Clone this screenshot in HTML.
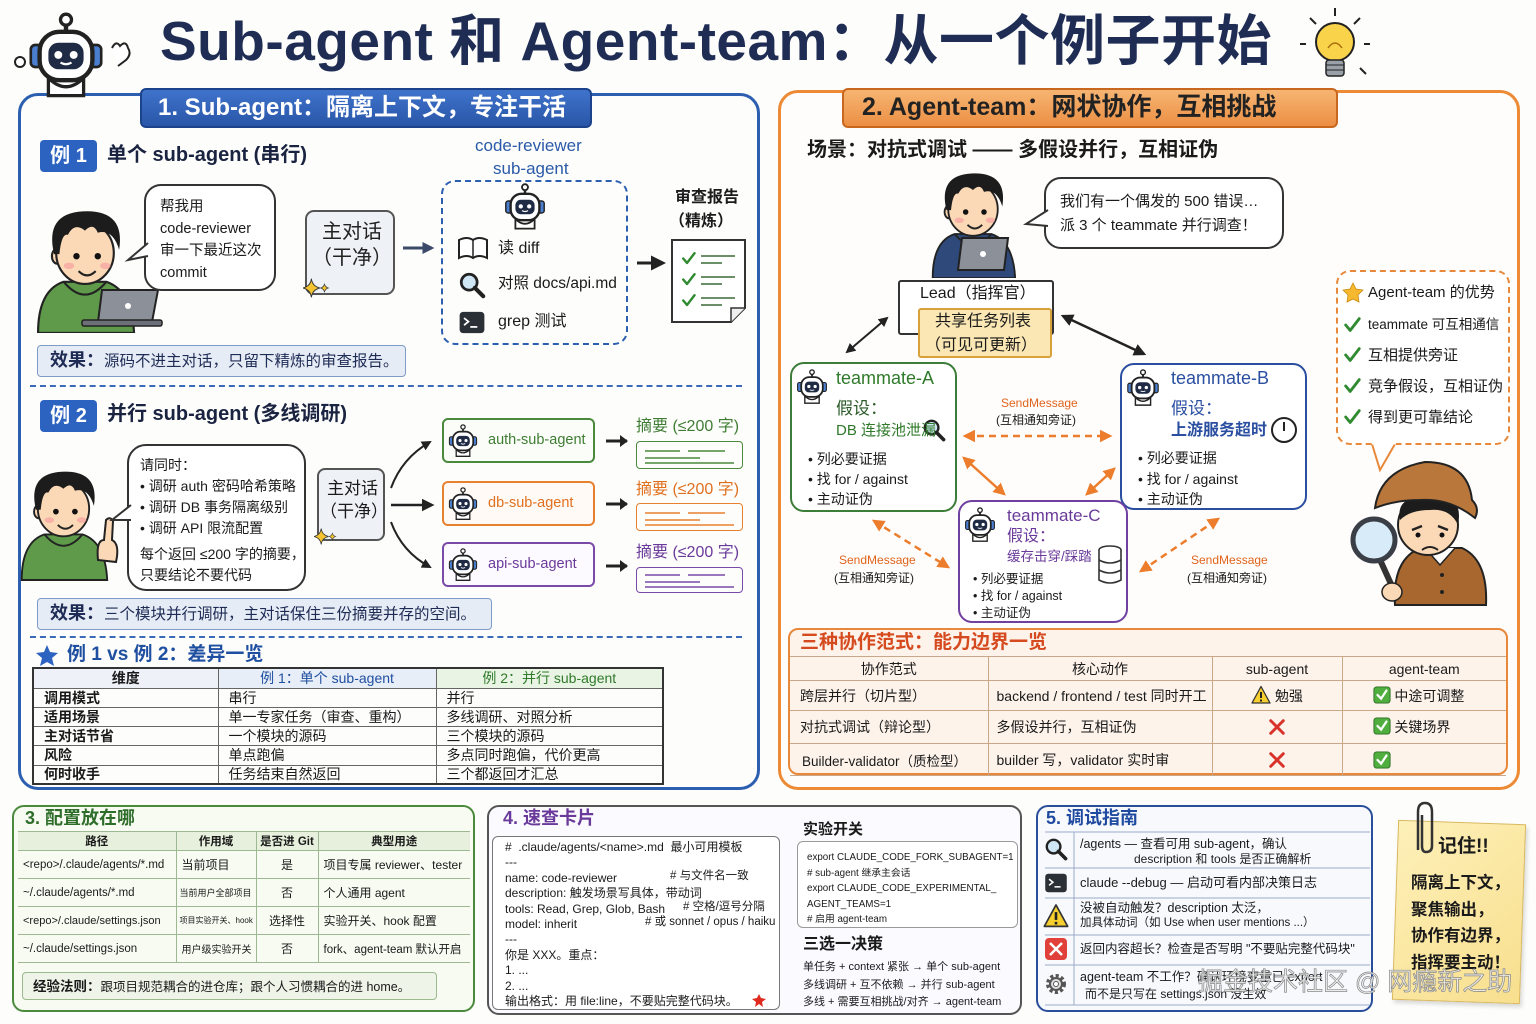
<!DOCTYPE html>
<html><head><meta charset="utf-8">
<style>
*{margin:0;padding:0;box-sizing:border-box}
body{width:1536px;height:1024px;position:relative;overflow:hidden;background:#fdfdfb;font-family:"Liberation Sans","Noto Sans CJK SC",sans-serif;color:#1a1a1a}
.a{position:absolute}
.t{position:absolute;white-space:nowrap;line-height:1}
.b{font-weight:bold}
svg.ov{position:absolute;left:0;top:0}
table{border-collapse:collapse;position:absolute;table-layout:fixed}
td{white-space:nowrap;overflow:hidden}
.ct td{border:1px solid #666;font-size:14px;padding-left:10px;line-height:16px}
.rt td{border:1px solid #c9a88a;font-size:14px;padding-left:10px}
.g3 td{border-top:1px solid #9fb894;border-bottom:1px solid #9fb894;border-left:1px solid #9fb894;font-size:11.5px;padding-left:5px}
.g3 td:first-child{border-left:none}
</style></head><body>

<!-- PANELS -->
<div class="a" style="left:18px;top:93px;width:742px;height:697px;border:3px solid #2d5fb0;border-radius:20px;background:#fdfdfc"></div>
<div class="a" style="left:778px;top:90px;width:742px;height:700px;border:3px solid #ec8a36;border-radius:20px;background:#fffdfb"></div>

<div class="a" style="left:140px;top:88px;width:452px;height:40px;background:linear-gradient(#3f73cb,#2956a8);border:2px solid #1c428c;border-radius:6px"></div>
<div class="a" style="left:842px;top:88px;width:496px;height:40px;background:linear-gradient(#f6b572,#ec8f44);border:2px solid #c9671f;border-radius:6px"></div>

<!-- section 1 boxes -->
<div class="a" style="left:305px;top:210px;width:90px;height:85px;background:#eef2f7;border:2px solid #555;border-radius:9px"></div>
<div class="a" style="left:441px;top:180px;width:187px;height:165px;border:2px dashed #2d5fb0;border-radius:14px"></div>
<div class="a" style="left:37px;top:345px;width:369px;height:32px;background:#e6ecf5;border:1.5px solid #7f9cc8;border-radius:4px"></div>
<div class="a" style="left:30px;top:385px;width:712px;border-top:2px dashed #3a6ab8"></div>

<div class="a" style="left:317px;top:468px;width:68px;height:73px;background:#eef2f7;border:2px solid #555;border-radius:8px"></div>
<div class="a" style="left:442px;top:418px;width:153px;height:45px;border:2px solid #4a8a3c;border-radius:6px;background:#fbfdf9"></div>
<div class="a" style="left:442px;top:481px;width:153px;height:45px;border:2px solid #e8812f;border-radius:6px;background:#fffaf5"></div>
<div class="a" style="left:442px;top:542px;width:153px;height:45px;border:2px solid #7a4aa8;border-radius:6px;background:#fcfaff"></div>
<div class="a" style="left:636px;top:441px;width:107px;height:28px;border:1.5px solid #4a8a3c;border-radius:4px"></div>
<div class="a" style="left:636px;top:503px;width:107px;height:28px;border:1.5px solid #e8812f;border-radius:4px"></div>
<div class="a" style="left:636px;top:567px;width:107px;height:26px;border:1.5px solid #7a4aa8;border-radius:4px"></div>
<div class="a" style="left:37px;top:598px;width:455px;height:32px;background:#e6ecf5;border:1.5px solid #7f9cc8;border-radius:4px"></div>
<div class="a" style="left:30px;top:636px;width:712px;border-top:2px dashed #3a6ab8"></div>

<!-- right boxes -->
<div class="a" style="left:898px;top:280px;width:156px;height:55px;border:2px solid #333;background:#fff;border-radius:3px"></div>
<div class="a" style="left:918px;top:308px;width:134px;height:50px;border:2px solid #d8a13a;background:#fbe7b4;border-radius:3px"></div>
<div class="a" style="left:790px;top:362px;width:167px;height:150px;border:2px solid #3d7d3a;border-radius:14px;background:#fff"></div>
<div class="a" style="left:1120px;top:363px;width:187px;height:147px;border:2px solid #2a4fa0;border-radius:14px;background:#fff"></div>
<div class="a" style="left:958px;top:500px;width:170px;height:123px;border:2px solid #7040a0;border-radius:14px;background:#fff"></div>
<div class="a" style="left:1336px;top:270px;width:174px;height:175px;border:2px dashed #e8883a;border-radius:14px;background:#fff"></div>
<div class="a" style="left:788px;top:628px;width:720px;height:147px;border:2px solid #e8883a;border-radius:10px;background:#fdf3ea"></div>

<!-- bottom sections -->
<div class="a" style="left:12px;top:805px;width:463px;height:207px;border:2px solid #4a8a3c;border-radius:12px;background:#f7fbf2"></div>
<div class="a" style="left:22px;top:972px;width:415px;height:28px;background:#eef4e8;border:1px solid #9bb98f;border-radius:4px"></div>
<div class="a" style="left:487px;top:805px;width:535px;height:210px;border:2px solid #555;border-radius:12px;background:#fbfaff"></div>
<div class="a" style="left:492px;top:836px;width:288px;height:174px;border:1px solid #777;border-radius:6px;background:#fff"></div>
<div class="a" style="left:797px;top:841px;width:221px;height:87px;border:1px solid #999;border-radius:6px;background:#fff"></div>
<div class="a" style="left:1036px;top:805px;width:337px;height:207px;border:2px solid #2a4f9a;border-radius:12px;background:#f7f9fd"></div>
<div class="a" style="left:1395px;top:822px;width:128px;height:180px;background:linear-gradient(135deg,#fdf0b8,#f8df8e);border:1px solid #d9b85a;transform:rotate(2deg);box-shadow:2px 3px 4px rgba(0,0,0,.15)"></div>

<!-- SVG OVERLAY -->
<svg class="ov" width="1536" height="1024" viewBox="0 0 1536 1024">
<defs>
<marker id="mk" viewBox="0 0 10 10" refX="8" refY="5" markerWidth="5" markerHeight="5" orient="auto-start-reverse"><path d="M0 0L10 5L0 10z" fill="#222"/></marker>
<marker id="mb" viewBox="0 0 10 10" refX="8" refY="5" markerWidth="4" markerHeight="4" orient="auto-start-reverse"><path d="M0 0L10 5L0 10z" fill="#3a4a68"/></marker>
<marker id="mo" viewBox="0 0 10 10" refX="8" refY="5" markerWidth="5" markerHeight="5" orient="auto-start-reverse"><path d="M0 0L10 5L0 10z" fill="#ec7d2c"/></marker>
<symbol id="rb" viewBox="0 0 40 40">
 <line x1="20" y1="3" x2="20" y2="9" stroke="#222" stroke-width="2"/>
 <circle cx="20" cy="3.5" r="2.5" fill="#fff" stroke="#222" stroke-width="1.5"/>
 <rect x="4" y="15" width="6" height="10" rx="2" fill="#4a7fd0" stroke="#222" stroke-width="1.2"/>
 <rect x="30" y="15" width="6" height="10" rx="2" fill="#4a7fd0" stroke="#222" stroke-width="1.2"/>
 <path d="M12 30 Q20 38 28 30 L28 38 L12 38Z" fill="#fff" stroke="#222" stroke-width="1.5"/>
 <rect x="8" y="9" width="24" height="22" rx="9" fill="#fff" stroke="#222" stroke-width="2"/>
 <rect x="12" y="14" width="16" height="12" rx="4.5" fill="#1f2a44"/>
 <circle cx="16.5" cy="19.5" r="1.8" fill="#fff"/>
 <circle cx="23.5" cy="19.5" r="1.8" fill="#fff"/>
 <path d="M17.5 23 Q20 24.5 22.5 23" stroke="#fff" fill="none" stroke-width="1"/>
</symbol>
<symbol id="kid" viewBox="0 0 100 120">
 <path d="M6 120 Q6 80 30 72 L70 72 Q94 80 96 120Z" fill="currentColor" stroke="#222" stroke-width="2"/>
 <path d="M30 72 Q50 96 70 72" fill="none" stroke="#222" stroke-width="2"/>
 <ellipse cx="24" cy="48" rx="5" ry="7" fill="#fcd9b6" stroke="#222" stroke-width="2"/>
 <ellipse cx="50" cy="45" rx="27" ry="29" fill="#fcd9b6" stroke="#222" stroke-width="2"/>
 <path d="M21 46 Q12 8 48 6 Q88 4 82 42 Q76 22 62 26 Q58 16 50 24 Q40 16 34 28 Q28 26 26 46Z" fill="#1c1c1c"/>
 <circle cx="42" cy="48" r="3" fill="#111"/>
 <circle cx="62" cy="48" r="3" fill="#111"/>
 <ellipse cx="35" cy="57" rx="5" ry="3" fill="#f5a0a0" opacity=".7"/>
 <ellipse cx="69" cy="57" rx="5" ry="3" fill="#f5a0a0" opacity=".7"/>
 <path d="M44 62 Q52 70 60 62" fill="none" stroke="#222" stroke-width="2"/>
</symbol>
<symbol id="chk" viewBox="0 0 20 20"><path d="M3 10 L8 16 L18 3" fill="none" stroke="#2f8a30" stroke-width="3.2" stroke-linecap="round" stroke-linejoin="round"/></symbol>
<symbol id="gbox" viewBox="0 0 20 20"><rect x="1" y="1" width="18" height="18" rx="3" fill="#4fae3e" stroke="#2c6e25"/><path d="M5 10 L9 14 L15 5" fill="none" stroke="#fff" stroke-width="2.5" stroke-linecap="round"/></symbol>
<symbol id="rx" viewBox="0 0 20 20"><path d="M3 3 L17 17 M17 3 L3 17" stroke="#d8322a" stroke-width="3.2" stroke-linecap="round"/></symbol>
<symbol id="warn" viewBox="0 0 20 20"><path d="M10 1.5 L19 18 L1 18Z" fill="#f7cf2f" stroke="#333" stroke-width="1.3" stroke-linejoin="round"/><rect x="9" y="7" width="2" height="6" fill="#222"/><rect x="9" y="14.5" width="2" height="2" fill="#222"/></symbol>
<symbol id="mag" viewBox="0 0 30 30"><circle cx="12" cy="12" r="8.5" fill="#cfe6f5" stroke="#222" stroke-width="3"/><path d="M18 18 L27 27" stroke="#222" stroke-width="4.5" stroke-linecap="round"/></symbol>
<symbol id="term" viewBox="0 0 30 26"><rect x="1" y="1" width="28" height="24" rx="4" fill="#2b2f36"/><path d="M6 8 L11 12 L6 16" stroke="#fff" stroke-width="2" fill="none"/><path d="M13 18 H21" stroke="#fff" stroke-width="2"/></symbol>
<symbol id="spk" viewBox="0 0 30 20"><path d="M9 0 Q10 8 18 10 Q10 12 9 20 Q8 12 0 10 Q8 8 9 0Z" fill="#f4c430" stroke="#333" stroke-width="1"/><path d="M23 6 Q24 9 27 10 Q24 11 23 14 Q22 11 19 10 Q22 9 23 6Z" fill="#f4c430" stroke="#333" stroke-width=".8"/></symbol>
</defs>

<!-- title robot -->
<circle cx="20" cy="62" r="5" fill="#fff" stroke="#222" stroke-width="2"/>
<use href="#rb" x="22" y="12" width="88" height="88"/>
<path d="M112 48 q4 -8 8 -2 q6 -6 8 2 q4 6 -2 12 l-8 6" fill="#fff" stroke="#222" stroke-width="2"/>
<!-- lightbulb -->
<circle cx="1335" cy="42" r="19" fill="#f9d34a" stroke="#222" stroke-width="2"/>
<path d="M1328 48 q7 -10 14 0" fill="none" stroke="#a86c10" stroke-width="1.5"/>
<rect x="1326" y="60" width="18" height="16" rx="3" fill="#9aa0a8" stroke="#222" stroke-width="1.5"/>
<path d="M1326 65 H1344 M1326 70 H1344" stroke="#222"/>
<path d="M1335 8 V16 M1310 18 L1316 24 M1360 18 L1354 24 M1300 44 H1306 M1364 44 H1370 M1360 68 L1366 74" stroke="#222" stroke-width="2"/>

<!-- person 1 -->
<use href="#kid" x="30" y="205" width="110" height="128" style="color:#5e9a4a"/>
<path d="M102 290 L158 290 L152 322 L98 322Z" fill="#8c9098" stroke="#222" stroke-width="2"/>
<rect x="82" y="320" width="80" height="6" rx="2" fill="#6d7078" stroke="#222" stroke-width="1.5"/>
<circle cx="128" cy="306" r="3" fill="#fff"/>
<!-- bubble 1 -->
<rect x="145" y="185" width="130" height="105" rx="16" fill="#fff" stroke="#333" stroke-width="2"/>
<path d="M148 243 L128 260 L148 256" fill="#fff" stroke="#333" stroke-width="2"/>
<use href="#spk" x="303" y="278" width="28" height="20"/>
<!-- arrow 1 -->
<path d="M403 248 H432" stroke="#3a4a68" stroke-width="3" marker-end="url(#mb)"/>
<!-- dashed box icons -->
<use href="#rb" x="501" y="183" width="48" height="48"/>
<path d="M459 240 Q467 236 473 240 Q479 236 487 240 V258 Q479 254 473 258 Q467 254 459 258Z" fill="#fff" stroke="#222" stroke-width="2"/>
<path d="M473 240 V258" stroke="#222" stroke-width="1.5"/>
<use href="#mag" x="458" y="271" width="28" height="28"/>
<use href="#term" x="458" y="311" width="28" height="23"/>
<!-- arrow 2 -->
<path d="M637 263 H663" stroke="#222" stroke-width="3" marker-end="url(#mk)"/>
<!-- report -->
<path d="M672 240 H745 V308 L731 322 H672Z" fill="#fff" stroke="#333" stroke-width="2"/>
<path d="M745 308 L731 308 L731 322" fill="#eee" stroke="#333" stroke-width="1.5"/>
<use href="#chk" x="681" y="251" width="15" height="15"/>
<use href="#chk" x="681" y="272" width="15" height="15"/>
<use href="#chk" x="681" y="293" width="15" height="15"/>
<path d="M701 256 H735 M701 263 H722 M701 277 H735 M701 284 H722 M701 298 H735 M701 305 H722" stroke="#3a6a36" stroke-width="1.6"/>

<!-- example 2 -->
<use href="#kid" x="16" y="460" width="95" height="126" style="color:#5e9a4a"/>
<path d="M98 560 Q96 540 104 540 L106 520 Q110 516 113 521 L112 540 Q120 544 116 562Z" fill="#fcd9b6" stroke="#222" stroke-width="2"/>
<rect x="128" y="445" width="177" height="145" rx="18" fill="#fff" stroke="#333" stroke-width="2"/>
<path d="M131 505 L112 520 L131 520" fill="#fff" stroke="#333" stroke-width="2"/>
<use href="#spk" x="314" y="528" width="24" height="17"/>
<path d="M391 488 Q402 458 430 442" fill="none" stroke="#222" stroke-width="2" marker-end="url(#mk)"/>
<path d="M391 505 H432" stroke="#222" stroke-width="2.5" marker-end="url(#mk)"/>
<path d="M391 522 Q402 552 430 567" fill="none" stroke="#222" stroke-width="2" marker-end="url(#mk)"/>
<use href="#rb" x="446" y="423" width="34" height="36"/>
<use href="#rb" x="446" y="486" width="34" height="36"/>
<use href="#rb" x="446" y="547" width="34" height="36"/>
<path d="M606 441 H627 M606 504 H627 M606 566 H627" stroke="#222" stroke-width="3"/>
<path d="M620 435 L628 441 L620 447Z M620 498 L628 504 L620 510Z M620 560 L628 566 L620 572Z" fill="#222"/>
<path d="M645 451 H680 M688 451 H725 M645 458 H700 M645 463 H734" stroke="#4a8a3c" stroke-width="1.6"/>
<path d="M645 513 H680 M688 513 H725 M645 520 H700 M645 525 H734" stroke="#e8812f" stroke-width="1.6"/>
<path d="M645 575 H680 M688 575 H725 M645 582 H700 M645 587 H734" stroke="#7a4aa8" stroke-width="1.6"/>
<!-- star -->
<path d="M47 645 L50 652 L58 653 L52 658 L54 666 L47 662 L40 666 L42 658 L36 653 L44 652Z" fill="#2d63c0"/>

<!-- RIGHT: person 3 -->
<use href="#kid" x="927" y="168" width="92" height="110" style="color:#2f4a7a"/>
<path d="M962 238 L1008 238 L1004 270 L958 270Z" fill="#8c9098" stroke="#222" stroke-width="2"/>
<circle cx="983" cy="254" r="3" fill="#fff"/>
<rect x="1045" y="178" width="238" height="70" rx="16" fill="#fff" stroke="#333" stroke-width="2"/>
<path d="M1048 210 L1026 224 L1048 226" fill="#fff" stroke="#333" stroke-width="2"/>
<!-- lead arrows -->
<path d="M887 318 L847 352" stroke="#222" stroke-width="2" marker-start="url(#mk)" marker-end="url(#mk)"/>
<path d="M1063 316 L1144 354" stroke="#222" stroke-width="2.5" marker-start="url(#mk)" marker-end="url(#mk)"/>
<!-- teammates icons -->
<use href="#rb" x="794" y="367" width="36" height="40"/>
<use href="#mag" x="922" y="418" width="24" height="24"/>
<use href="#rb" x="1124" y="367" width="38" height="42"/>
<circle cx="1284" cy="430" r="12" fill="#fff" stroke="#222" stroke-width="2"/>
<path d="M1284 422 V431" stroke="#222" stroke-width="2"/>
<use href="#rb" x="962" y="504" width="36" height="42"/>
<g fill="#fff" stroke="#333" stroke-width="1.6"><ellipse cx="1110" cy="550" rx="11" ry="4"/><path d="M1099 550 V580 Q1110 586 1121 580 V550"/><path d="M1099 560 Q1110 566 1121 560 M1099 570 Q1110 576 1121 570" fill="none"/></g>
<!-- orange arrows -->
<path d="M965 436 H1110" stroke="#ec7d2c" stroke-width="2.5" stroke-dasharray="7 5" marker-start="url(#mo)" marker-end="url(#mo)"/>
<path d="M964 458 L1004 494" stroke="#ec7d2c" stroke-width="2.5" marker-start="url(#mo)" marker-end="url(#mo)"/>
<path d="M1087 494 L1114 469" stroke="#ec7d2c" stroke-width="2.5" marker-start="url(#mo)" marker-end="url(#mo)"/>
<path d="M874 521 L948 567" stroke="#ec7d2c" stroke-width="2.5" stroke-dasharray="7 5" marker-start="url(#mo)" marker-end="url(#mo)"/>
<path d="M1141 571 L1218 519" stroke="#ec7d2c" stroke-width="2.5" stroke-dasharray="7 5" marker-start="url(#mo)" marker-end="url(#mo)"/>
<!-- advantage tail + star + checks -->
<path d="M1372 444 L1380 470 L1395 444" fill="#fff" stroke="#e8883a" stroke-width="2"/>
<path d="M1372 443 H1396" stroke="#fff" stroke-width="3"/>
<path d="M1353 283 L1356 289 L1363 290 L1358 295 L1359 302 L1353 299 L1347 302 L1348 295 L1343 290 L1350 289Z" fill="#f5b82e" stroke="#c98a10" stroke-width=".8"/>
<use href="#chk" x="1343" y="316" width="18" height="18"/>
<use href="#chk" x="1343" y="346" width="18" height="18"/>
<use href="#chk" x="1343" y="377" width="18" height="18"/>
<use href="#chk" x="1343" y="408" width="18" height="18"/>
<!-- detective -->
<path d="M1395 605 Q1392 560 1420 548 L1462 548 Q1488 560 1486 605Z" fill="#a8672e" stroke="#222" stroke-width="2"/>
<path d="M1425 548 L1440 565 L1455 548" fill="#fff" stroke="#222" stroke-width="1.5"/>
<circle cx="1442" cy="575" r="2" fill="#222"/><circle cx="1442" cy="592" r="2" fill="#222"/>
<ellipse cx="1428" cy="525" rx="30" ry="30" fill="#fcd9b6" stroke="#222" stroke-width="2"/>
<path d="M1400 520 Q1396 498 1420 498 L1450 498 Q1462 505 1458 525 Q1450 508 1430 510 Q1410 510 1400 520Z" fill="#1c1c1c"/>
<path d="M1375 508 Q1380 470 1425 462 Q1468 462 1472 500 Q1480 508 1475 518 Q1450 498 1420 500 Q1395 500 1375 508Z" fill="#b9773c" stroke="#222" stroke-width="2"/>
<path d="M1412 530 l10 -4 M1438 526 l10 4" stroke="#222" stroke-width="2.5"/>
<circle cx="1418" cy="535" r="2.5" fill="#111"/><circle cx="1442" cy="535" r="2.5" fill="#111"/>
<path d="M1422 550 Q1430 544 1438 550" fill="none" stroke="#222" stroke-width="2"/>
<path d="M1381 562 L1396 595" stroke="#333" stroke-width="6" stroke-linecap="round"/>
<circle cx="1374" cy="540" r="21" fill="#d7ecf8" stroke="#3a3f47" stroke-width="5"/>
<ellipse cx="1392" cy="592" rx="10" ry="9" fill="#fcd9b6" stroke="#222" stroke-width="1.5"/>

<!-- section 5 icons -->
<use href="#mag" x="1044" y="837" width="24" height="24"/>
<use href="#term" x="1044" y="873" width="24" height="20"/>
<use href="#warn" x="1043" y="903" width="26" height="26"/>
<rect x="1045" y="938" width="22" height="22" rx="4" fill="#e0413a"/>
<path d="M1050 943 L1062 955 M1062 943 L1050 955" stroke="#fff" stroke-width="2.5"/>
<g transform="translate(1056,984)"><circle r="8" fill="none" stroke="#555" stroke-width="4" stroke-dasharray="3 2.3"/><circle r="6" fill="#ddd" stroke="#555" stroke-width="2"/><circle r="2.5" fill="#fff" stroke="#555"/></g>
<path d="M1045 832 H1370 M1045 868 H1370 M1045 898 H1370 M1045 935 H1370 M1045 965 H1370 M1045 1005 H1370 M1074 832 V1005" stroke="#9aabc8" stroke-width="1"/>
<!-- sec4 star -->
<path d="M759 994 L761 998 L766 999 L762 1002 L763 1007 L759 1004 L755 1007 L756 1002 L752 999 L757 998Z" fill="#e02a1f"/>
<!-- paperclip -->
<path d="M1418 850 V812 Q1418 803 1425 803 Q1432 803 1432 812 V846 Q1432 852 1426 852 Q1422 852 1422 846 V815" fill="none" stroke="#333" stroke-width="2.5"/>
</svg>

<!-- TITLE -->
<div class="t b" style="left:160px;top:14px;font-size:55px;color:#1f2d55;letter-spacing:0.5px">Sub-agent 和 Agent-team：从一个例子开始</div>
<div class="t b" style="left:158px;top:96px;font-size:24px;color:#fff">1. Sub-agent：隔离上下文，专注干活</div>
<div class="t b" style="left:862px;top:95px;font-size:25px;color:#222">2. Agent-team：网状协作，互相挑战</div>

<!-- EX 1 -->
<div class="a b" style="left:40px;top:140px;width:57px;height:32px;background:#2d63c0;border-radius:4px;color:#fff;font-size:20px;line-height:32px;text-align:center">例 1</div>
<div class="t b" style="left:107px;top:145px;font-size:20px;color:#1a2340">单个 sub-agent (串行)</div>
<div class="t" style="left:475px;top:137px;font-size:17px;color:#2a5aa8">code-reviewer</div>
<div class="t" style="left:493px;top:160px;font-size:17px;color:#2a5aa8">sub-agent</div>
<div class="t" style="left:160px;top:196px;font-size:14.5px;line-height:22px">帮我用<br>code-reviewer<br>审一下最近这次<br>commit</div>
<div class="t" style="left:322px;top:222px;font-size:20px;color:#222">主对话</div>
<div class="t" style="left:312px;top:248px;font-size:20px;color:#222">（干净）</div>
<div class="t" style="left:498px;top:241px;font-size:16px">读 diff</div>
<div class="t" style="left:498px;top:276px;font-size:15.5px">对照 docs/api.md</div>
<div class="t" style="left:498px;top:314px;font-size:16px">grep 测试</div>
<div class="t b" style="left:675px;top:190px;font-size:16px">审查报告</div>
<div class="t b" style="left:669px;top:214px;font-size:16px">（精炼）</div>
<div class="t" style="left:50px;top:351px;font-size:15.5px;color:#1e2b55"><b style="font-size:18px">效果：</b>源码不进主对话，只留下精炼的审查报告。</div>

<!-- EX 2 -->
<div class="a b" style="left:40px;top:400px;width:57px;height:32px;background:#2d63c0;border-radius:4px;color:#fff;font-size:20px;line-height:32px;text-align:center">例 2</div>
<div class="t b" style="left:107px;top:404px;font-size:20px;color:#1a2340">并行 sub-agent (多线调研)</div>
<div class="t" style="left:140px;top:455px;font-size:14px;line-height:21px">请同时：<br>• 调研 auth 密码哈希策略<br>• 调研 DB 事务隔离级别<br>• 调研 API 限流配置</div>
<div class="t" style="left:140px;top:544px;font-size:14px;line-height:21px">每个返回 ≤200 字的摘要，<br>只要结论不要代码</div>
<div class="t" style="left:327px;top:480px;font-size:17px">主对话</div>
<div class="t" style="left:320px;top:503px;font-size:17px">（干净）</div>
<div class="t" style="left:488px;top:433px;font-size:14.5px;color:#3f7d33">auth-sub-agent</div>
<div class="t" style="left:488px;top:496px;font-size:14.5px;color:#e0701f">db-sub-agent</div>
<div class="t" style="left:488px;top:557px;font-size:14.5px;color:#6a3a9a">api-sub-agent</div>
<div class="t" style="left:636px;top:419px;font-size:16px;color:#3f7d33">摘要 (≤200 字)</div>
<div class="t" style="left:636px;top:482px;font-size:16px;color:#e0701f">摘要 (≤200 字)</div>
<div class="t" style="left:636px;top:545px;font-size:16px;color:#6a3a9a">摘要 (≤200 字)</div>
<div class="t" style="left:50px;top:604px;font-size:15.5px;color:#1e2b55"><b style="font-size:18px">效果：</b>三个模块并行调研，主对话保住三份摘要并存的空间。</div>

<!-- COMPARISON -->
<div class="t b" style="left:67px;top:645px;font-size:19px;color:#1f4fa0">例 1 vs 例 2：差异一览</div>
<table class="ct" style="left:32px;top:667px;width:630px;border:2px solid #333">
<colgroup><col style="width:185px"><col style="width:218px"><col style="width:227px"></colgroup>
<tr style="height:20px"><td style="text-align:center;padding:0;background:#eef2f8" class="b">维度</td><td style="text-align:center;padding:0;background:#e8eef8;color:#1f4fa0">例 1：单个 sub-agent</td><td style="text-align:center;padding:0;background:#eaf4e4;color:#2f7a2a">例 2：并行 sub-agent</td></tr>
<tr style="height:19px"><td class="b">调用模式</td><td>串行</td><td>并行</td></tr>
<tr style="height:19px"><td class="b">适用场景</td><td>单一专家任务（审查、重构）</td><td>多线调研、对照分析</td></tr>
<tr style="height:19px"><td class="b">主对话节省</td><td>一个模块的源码</td><td>三个模块的源码</td></tr>
<tr style="height:20px"><td class="b">风险</td><td>单点跑偏</td><td>多点同时跑偏，代价更高</td></tr>
<tr style="height:19px"><td class="b">何时收手</td><td>任务结束自然返回</td><td>三个都返回才汇总</td></tr>
</table>

<!-- RIGHT TEXT -->
<div class="t b" style="left:807px;top:140px;font-size:20px">场景：对抗式调试 —— 多假设并行，互相证伪</div>
<div class="t" style="left:1060px;top:194px;font-size:15px">我们有一个偶发的 500 错误…</div>
<div class="t" style="left:1060px;top:218px;font-size:15px">派 3 个 teammate 并行调查！</div>
<div class="t" style="left:920px;top:286px;font-size:16px">Lead（指挥官）</div>
<div class="t" style="left:935px;top:314px;font-size:16px">共享任务列表</div>
<div class="t" style="left:925px;top:338px;font-size:16px">（可见可更新）</div>

<div class="t" style="left:836px;top:369px;font-size:18px;color:#2f7a2a">teammate-A</div>
<div class="t" style="left:836px;top:400px;font-size:17px;color:#2c5a28">假设：</div>
<div class="t" style="left:836px;top:423px;font-size:15px;color:#2f7a2a">DB 连接池泄漏</div>
<div class="t" style="left:808px;top:449px;font-size:14px;line-height:20px">• 列必要证据<br>• 找 for / against<br>• 主动证伪</div>

<div class="t" style="left:1171px;top:369px;font-size:18px;color:#2a4fa0">teammate-B</div>
<div class="t" style="left:1171px;top:400px;font-size:17px;color:#2a4fa0">假设：</div>
<div class="t b" style="left:1171px;top:423px;font-size:16px;color:#2a4fa0">上游服务超时</div>
<div class="t" style="left:1138px;top:448px;font-size:14px;line-height:20.5px">• 列必要证据<br>• 找 for / against<br>• 主动证伪</div>

<div class="t" style="left:1007px;top:507px;font-size:17px;color:#6a3a9a">teammate-C</div>
<div class="t" style="left:1007px;top:529px;font-size:16px;color:#6a3a9a">假设：</div>
<div class="t" style="left:1007px;top:550px;font-size:13.5px;color:#6a3a9a">缓存击穿/踩踏</div>
<div class="t" style="left:973px;top:571px;font-size:12.5px;line-height:17px">• 列必要证据<br>• 找 for / against<br>• 主动证伪</div>

<div class="t" style="left:1001px;top:397px;font-size:12px;color:#e0631c">SendMessage</div>
<div class="t" style="left:996px;top:414px;font-size:12px">(互相通知旁证)</div>
<div class="t" style="left:839px;top:554px;font-size:12px;color:#e0631c">SendMessage</div>
<div class="t" style="left:834px;top:572px;font-size:12px">(互相通知旁证)</div>
<div class="t" style="left:1191px;top:554px;font-size:12px;color:#e0631c">SendMessage</div>
<div class="t" style="left:1187px;top:572px;font-size:12px">(互相通知旁证)</div>

<div class="t" style="left:1368px;top:285px;font-size:15px">Agent-team 的优势</div>
<div class="t" style="left:1368px;top:318px;font-size:13.5px">teammate 可互相通信</div>
<div class="t" style="left:1368px;top:348px;font-size:15px">互相提供旁证</div>
<div class="t" style="left:1368px;top:379px;font-size:15px">竞争假设，互相证伪</div>
<div class="t" style="left:1368px;top:410px;font-size:15px">得到更可靠结论</div>

<div class="t b" style="left:800px;top:633px;font-size:19px;color:#d54a1f">三种协作范式：能力边界一览</div>
<table class="rt" style="left:790px;top:656px;width:716px">
<colgroup><col style="width:198px"><col style="width:224px"><col style="width:130px"><col style="width:164px"></colgroup>
<tr style="height:24px"><td style="text-align:center;padding:0;border-left:none">协作范式</td><td style="text-align:center;padding:0">核心动作</td><td style="text-align:center;padding:0">sub-agent</td><td style="text-align:center;padding:0;border-right:none">agent-team</td></tr>
<tr style="height:30px"><td style="border-left:none">跨层并行（切片型）</td><td style="padding-left:8px">backend / frontend / test 同时开工</td><td style="text-align:center;padding:0"><svg width="20" height="20" style="vertical-align:-4px"><use href="#warn"/></svg> 勉强</td><td style="border-right:none;padding-left:30px"><svg width="18" height="18" style="vertical-align:-3px"><use href="#gbox"/></svg> 中途可调整</td></tr>
<tr style="height:33px"><td style="border-left:none">对抗式调试（辩论型）</td><td style="padding-left:8px">多假设并行，互相证伪</td><td style="text-align:center;padding:0"><svg width="18" height="18" style="vertical-align:-3px"><use href="#rx"/></svg></td><td style="border-right:none;padding-left:30px"><svg width="18" height="18" style="vertical-align:-3px"><use href="#gbox"/></svg> 关键场界</td></tr>
<tr style="height:32px"><td style="border-left:none;padding-left:12px;font-size:13.5px">Builder-validator（质检型）</td><td style="padding-left:8px">builder 写，validator 实时审</td><td style="text-align:center;padding:0"><svg width="18" height="18" style="vertical-align:-3px"><use href="#rx"/></svg></td><td style="border-right:none;padding-left:30px"><svg width="18" height="18" style="vertical-align:-3px"><use href="#gbox"/></svg></td></tr>
</table>

<!-- SECTION 3 -->
<div class="t b" style="left:25px;top:809px;font-size:18px;color:#2e6d2a">3. 配置放在哪</div>
<table class="g3" style="left:18px;top:831px;width:452px">
<colgroup><col style="width:158px"><col style="width:80px"><col style="width:62px"><col style="width:152px"></colgroup>
<tr style="height:19px;background:#e6f0dc"><td class="b" style="text-align:center;padding:0">路径</td><td class="b" style="text-align:center;padding:0">作用域</td><td class="b" style="text-align:center;padding:0">是否进 Git</td><td class="b" style="text-align:center;padding:0">典型用途</td></tr>
<tr style="height:28px"><td>&lt;repo&gt;/.claude/agents/*.md</td><td style="font-size:12px">当前项目</td><td style="text-align:center;padding:0;font-size:12px">是</td><td style="font-size:12px">项目专属 reviewer、tester</td></tr>
<tr style="height:28px"><td>~/.claude/agents/*.md</td><td style="font-size:9px;padding-left:3px">当前用户全部项目</td><td style="text-align:center;padding:0;font-size:12px">否</td><td style="font-size:12px">个人通用 agent</td></tr>
<tr style="height:28px"><td style="font-size:11px">&lt;repo&gt;/.claude/settings.json</td><td style="font-size:8px;padding-left:3px">项目实验开关、hook</td><td style="text-align:center;padding:0;font-size:12px">选择性</td><td style="font-size:12px">实验开关、hook 配置</td></tr>
<tr style="height:28px"><td>~/.claude/settings.json</td><td style="font-size:10px">用户级实验开关</td><td style="text-align:center;padding:0;font-size:12px">否</td><td style="font-size:11.5px">fork、agent-team 默认开启</td></tr>
</table>
<div class="t" style="left:33px;top:980px;font-size:12.5px"><b style="font-size:13.5px">经验法则：</b>跟项目规范耦合的进仓库；跟个人习惯耦合的进 home。</div>

<!-- SECTION 4 -->
<div class="t b" style="left:503px;top:809px;font-size:18px;color:#6a3a9a">4. 速查卡片</div>
<div class="t" style="left:505px;top:840px;font-size:12px;line-height:15.4px">#&nbsp; .claude/agents/&lt;name&gt;.md&nbsp; 最小可用模板<br>---<br>name: code-reviewer<br>description: 触发场景写具体，带动词<br>tools: Read, Grep, Glob, Bash<br>model: inherit<br>---<br>你是 XXX。重点：<br>1. ...<br>2. ...<br>输出格式：用 file:line，不要贴完整代码块。</div>
<div class="t" style="left:670px;top:871px;font-size:11.5px"># 与文件名一致</div>
<div class="t" style="left:683px;top:902px;font-size:11.5px"># 空格/逗号分隔</div>
<div class="t" style="left:645px;top:917px;font-size:11.5px"># 或 sonnet / opus / haiku</div>
<div class="t b" style="left:803px;top:822px;font-size:15px">实验开关</div>
<div class="t" style="left:807px;top:850px;font-size:9.8px;line-height:15.5px">export CLAUDE_CODE_FORK_SUBAGENT=1<br># sub-agent 继承主会话<br>export CLAUDE_CODE_EXPERIMENTAL_<br>AGENT_TEAMS=1<br># 启用 agent-team</div>
<div class="t b" style="left:803px;top:937px;font-size:16px">三选一决策</div>
<div class="t" style="left:803px;top:959px;font-size:11px;line-height:17.5px">单任务 + context 紧张 → 单个 sub-agent<br>多线调研 + 互不依赖 → 并行 sub-agent<br>多线 + 需要互相挑战/对齐 → agent-team</div>

<!-- SECTION 5 -->
<div class="t b" style="left:1046px;top:809px;font-size:18px;color:#1f4aa0">5. 调试指南</div>
<div class="t" style="left:1080px;top:838px;font-size:12.5px">/agents — 查看可用 sub-agent，确认</div>
<div class="t" style="left:1134px;top:853px;font-size:12px">description 和 tools 是否正确解析</div>
<div class="t" style="left:1080px;top:876px;font-size:13px">claude --debug — 启动可看内部决策日志</div>
<div class="t" style="left:1080px;top:902px;font-size:12.5px">没被自动触发？description 太泛，</div>
<div class="t" style="left:1080px;top:918px;font-size:11.5px">加具体动词（如 Use when user mentions ...）</div>
<div class="t" style="left:1080px;top:943px;font-size:12.5px">返回内容超长？检查是否写明 "不要贴完整代码块"</div>
<div class="t" style="left:1080px;top:971px;font-size:12.5px">agent-team 不工作？确认环境变量已 export</div>
<div class="t" style="left:1085px;top:988px;font-size:12px">而不是只写在 settings.json 没生效</div>

<!-- NOTE -->
<div class="t b" style="left:1438px;top:837px;font-size:19px">记住!!</div>
<div class="t b" style="left:1411px;top:870px;font-size:16.5px;line-height:26.5px">隔离上下文，<br>聚焦输出，<br>协作有边界，<br>指挥要主动！</div>

<!-- WATERMARK -->
<div class="t" style="left:1198px;top:970px;font-size:25px;color:rgba(235,235,235,.85);-webkit-text-stroke:0.7px #8a8a8a">掘金技术社区 @ 网瘾新之助</div>

</body></html>
